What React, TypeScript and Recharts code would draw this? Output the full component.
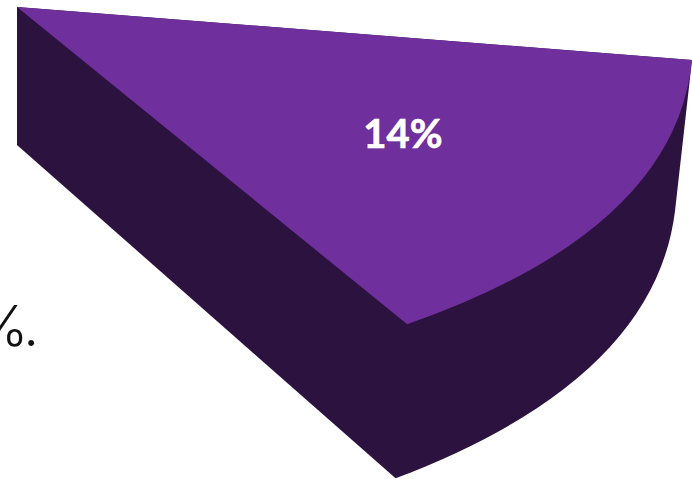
import React from 'react';
import { PieChart, Pie } from 'recharts';

// Share of the highlighted slice against everything else in the pie.
const sliceNames = ['Highlighted', 'Remainder'];
const sliceValues = [14, 86];
const sliceLabels = ['14%', ''];
const trailingText = '%.';

const data = sliceNames.map((name, i) => ({ name, value: sliceValues[i], caption: sliceLabels[i] }));

const WIDTH = 692;
const HEIGHT = 479;
const TOP_COLOR = '#6f2f9d';
const SIDE_COLOR = '#2c133f';

type Projection = {
  ox: number; oy: number;
  ux: number; uy: number;
  vx: number; vy: number;
  // Where the arc's Bezier control sits, in disc coordinates relative to the sector's mid angle.
  ctrlRadius: number;
  ctrlTurn: number;
};

// Tilted projection of the pie disc: the top face, and the bottom face seen through the thickness.
const topFace: Projection = { ox: 17, oy: 7, ux: 675, uy: 53, vx: -52, vy: 368, ctrlRadius: 1.111, ctrlTurn: -0.64 };
const bottomFace: Projection = { ox: 17, oy: 145, ux: 658, uy: 66, vx: -53, vy: 378, ctrlRadius: 1.0995, ctrlTurn: -1.2 };

const project = (p: Projection, r: number, deg: number) => {
  const t = (deg * Math.PI) / 180;
  const c = r * Math.cos(t);
  const s = r * Math.sin(t);
  return [p.ox + p.ux * c + p.vx * s, p.oy + p.uy * c + p.vy * s];
};

const fmt = (q: number[]) => `${q[0].toFixed(2)},${q[1].toFixed(2)}`;

// Draws a sector from the angles computed by the Pie, extruded and tilted.
const TiltedSector = (props: any) => {
  const { startAngle, endAngle, payload, fill } = props;
  if (fill === 'none') return <g />;
  const from = -startAngle;
  const to = -endAngle;
  const mid = (from + to) / 2;

  const topStart = project(topFace, 1, from);
  const topEnd = project(topFace, 1, to);
  const topCtrl = project(topFace, topFace.ctrlRadius, mid + topFace.ctrlTurn);
  const bottomStart = project(bottomFace, 1, from);
  const bottomEnd = project(bottomFace, 1, to);
  const bottomCtrl = project(bottomFace, bottomFace.ctrlRadius, mid + bottomFace.ctrlTurn);

  const side =
    `M${topFace.ox},${topFace.oy} L${bottomFace.ox},${bottomFace.oy} L${fmt(bottomEnd)} ` +
    `Q${fmt(bottomCtrl)} ${fmt(bottomStart)} L${fmt(topStart)} Z`;
  const top = `M${topFace.ox},${topFace.oy} L${fmt(topStart)} Q${fmt(topCtrl)} ${fmt(topEnd)} Z`;
  const labelAt = project(topFace, 0.65, mid - 2);

  return (
    <g>
      <path d={side} fill={SIDE_COLOR} />
      <path d={top} fill={fill} />
      <text
        x={labelAt[0] - 4}
        y={labelAt[1]}
        textAnchor="middle"
        dominantBaseline="central"
        fill="#ffffff"
        stroke="#ffffff"
        strokeWidth={0.7}
        fontFamily="Lato, sans-serif"
        fontWeight={700}
        fontSize={40}
      >
        {payload?.caption ?? props.caption}
      </text>
    </g>
  );
};

export default function App() {
  return (
    <div style={{ position: 'absolute', left: 0, top: 0, width: WIDTH, height: HEIGHT, overflow: 'hidden', background: '#fff' }}>
      <PieChart width={WIDTH} height={HEIGHT} margin={{ top: 0, right: 0, bottom: 0, left: 0 }}>
        <text x={34} y={346} textAnchor="end" fontFamily="Inter, sans-serif" fontWeight={300} fontSize={56} letterSpacing={-5} fill="#111111">
          {trailingText}
        </text>
        <Pie
          data={data}
          dataKey="value"
          nameKey="name"
          startAngle={0}
          endAngle={-360}
          outerRadius={100}
          stroke="none"
          isAnimationActive={false}
          shape={(props: any) => (
            <TiltedSector {...props} fill={props.index === 0 ? TOP_COLOR : 'none'} />
          )}
        />
      </PieChart>
    </div>
  );
}
